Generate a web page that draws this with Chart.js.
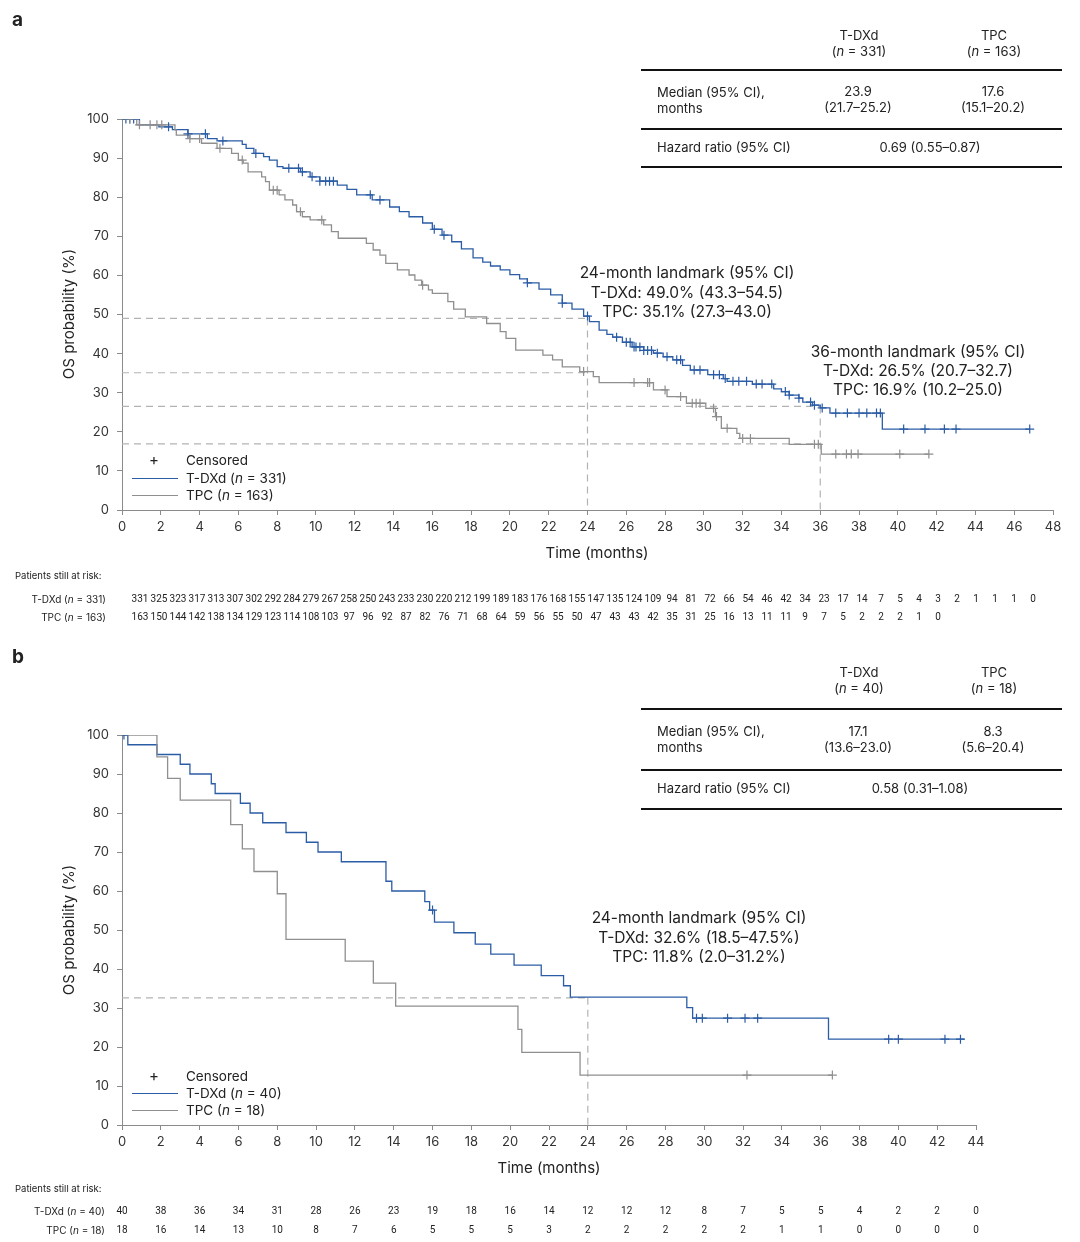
<!DOCTYPE html>
<html>
<head>
<meta charset="utf-8">
<script src="https://cdn.jsdelivr.net/npm/chart.js@4.4.1/dist/chart.umd.min.js"></script>
<style>
body { margin:0; background:#fff; font-family: Inter, 'Noto Sans', sans-serif; color:#222; }
#page { position:relative; width:1080px; height:1242px; overflow:hidden; }
canvas { position:absolute; left:0; }
.c { position:absolute; white-space:nowrap; transform:translate(-50%,-50%); }
.l { position:absolute; white-space:nowrap; transform:translate(0,-50%); }
.r { position:absolute; white-space:nowrap; transform:translate(-100%,-50%); }
.rule { position:absolute; left:641px; width:421px; height:0; border-top:2px solid #111; }
.tab { font-size:13px; }
.note { font-size:15.5px; }
.ax { font-size:15px; }
.leg { font-size:13.5px; }
.risk { font-size:10px; }
.sw { position:absolute; left:132px; width:46px; height:0; }
.panel { position:absolute; left:12px; font-weight:bold; font-size:19px; }
</style>
</head>
<body>
<div id="page">
  <canvas id="chartA" width="1080" height="640" style="top:0"></canvas>
  <canvas id="chartB" width="1080" height="602" style="top:640px"></canvas>

  <div class="panel" style="top:8px">a</div>
  <div class="panel" style="top:645px">b</div>

  <!-- panel a table -->
  <div class="c tab" style="left:859px;top:35px">T-DXd</div>
  <div class="c tab" style="left:859px;top:51px">(<i>n</i> = 331)</div>
  <div class="c tab" style="left:994px;top:35px">TPC</div>
  <div class="c tab" style="left:994px;top:51px">(<i>n</i> = 163)</div>
  <div class="rule" style="top:69px"></div>
  <div class="l tab" style="left:657px;top:92px">Median (95% CI),</div>
  <div class="l tab" style="left:657px;top:108px">months</div>
  <div class="c tab" style="left:858px;top:91px">23.9</div>
  <div class="c tab" style="left:858px;top:107px">(21.7–25.2)</div>
  <div class="c tab" style="left:993px;top:91px">17.6</div>
  <div class="c tab" style="left:993px;top:107px">(15.1–20.2)</div>
  <div class="rule" style="top:128px"></div>
  <div class="l tab" style="left:657px;top:147px">Hazard ratio (95% CI)</div>
  <div class="c tab" style="left:930px;top:147px">0.69 (0.55–0.87)</div>
  <div class="rule" style="top:166px"></div>

  <!-- panel b table -->
  <div class="c tab" style="left:859px;top:672px">T-DXd</div>
  <div class="c tab" style="left:859px;top:688px">(<i>n</i> = 40)</div>
  <div class="c tab" style="left:994px;top:672px">TPC</div>
  <div class="c tab" style="left:994px;top:688px">(<i>n</i> = 18)</div>
  <div class="rule" style="top:708px"></div>
  <div class="l tab" style="left:657px;top:731px">Median (95% CI),</div>
  <div class="l tab" style="left:657px;top:747px">months</div>
  <div class="c tab" style="left:858px;top:731px">17.1</div>
  <div class="c tab" style="left:858px;top:747px">(13.6–23.0)</div>
  <div class="c tab" style="left:993px;top:731px">8.3</div>
  <div class="c tab" style="left:993px;top:747px">(5.6–20.4)</div>
  <div class="rule" style="top:769px"></div>
  <div class="l tab" style="left:657px;top:788px">Hazard ratio (95% CI)</div>
  <div class="c tab" style="left:920px;top:788px">0.58 (0.31–1.08)</div>
  <div class="rule" style="top:808px"></div>

  <!-- landmark notes -->
  <div class="c note" style="left:687px;top:272px">24-month landmark (95% CI)</div>
  <div class="c note" style="left:687px;top:292px">T-DXd: 49.0% (43.3–54.5)</div>
  <div class="c note" style="left:687px;top:311px">TPC: 35.1% (27.3–43.0)</div>
  <div class="c note" style="left:918px;top:351px">36-month landmark (95% CI)</div>
  <div class="c note" style="left:918px;top:370px">T-DXd: 26.5% (20.7–32.7)</div>
  <div class="c note" style="left:918px;top:389px">TPC: 16.9% (10.2–25.0)</div>
  <div class="c note" style="left:699px;top:917px">24-month landmark (95% CI)</div>
  <div class="c note" style="left:699px;top:937px">T-DXd: 32.6% (18.5–47.5%)</div>
  <div class="c note" style="left:699px;top:956px">TPC: 11.8% (2.0–31.2%)</div>

  <!-- axis titles -->
  <div class="c ax" style="left:68px;top:314px;transform:translate(-50%,-50%) rotate(-90deg)">OS probability (%)</div>
  <div class="c ax" style="left:68px;top:930px;transform:translate(-50%,-50%) rotate(-90deg)">OS probability (%)</div>
  <div class="c ax" style="left:597px;top:552px">Time (months)</div>
  <div class="c ax" style="left:549px;top:1167px">Time (months)</div>

  <!-- legends -->
  <div class="c leg" style="left:154px;top:459px;font-size:15px">+</div>
  <div class="l leg" style="left:186px;top:460px">Censored</div>
  <div class="sw" style="top:478px;border-top:1.5px solid #2b5ca6"></div>
  <div class="l leg" style="left:186px;top:478px">T-DXd (<i>n</i> = 331)</div>
  <div class="sw" style="top:495px;border-top:1.5px solid #8f8f8f"></div>
  <div class="l leg" style="left:186px;top:495px">TPC (<i>n</i> = 163)</div>

  <div class="c leg" style="left:154px;top:1075px;font-size:15px">+</div>
  <div class="l leg" style="left:186px;top:1076px">Censored</div>
  <div class="sw" style="top:1093px;border-top:1.5px solid #2b5ca6"></div>
  <div class="l leg" style="left:186px;top:1093px">T-DXd (<i>n</i> = 40)</div>
  <div class="sw" style="top:1110px;border-top:1.5px solid #8f8f8f"></div>
  <div class="l leg" style="left:186px;top:1110px">TPC (<i>n</i> = 18)</div>

  <!-- risk table labels -->
  <div class="l risk" style="left:15px;top:575px;font-size:9.5px">Patients still at risk:</div>
  <div class="r risk" style="left:106px;top:599px">T-DXd (<i>n</i> = 331)</div>
  <div class="r risk" style="left:106px;top:617px">TPC (<i>n</i> = 163)</div>
  <div class="l risk" style="left:15px;top:1188px;font-size:9.5px">Patients still at risk:</div>
  <div class="r risk" style="left:105px;top:1211px">T-DXd (<i>n</i> = 40)</div>
  <div class="r risk" style="left:105px;top:1230px">TPC (<i>n</i> = 18)</div>
</div>

<script>
var BLUE = '#2b5ca6', GRAY = '#8f8f8f', DASH = '#b3b3b3';
Chart.defaults.font.family = 'Inter';

// ---- panel a : KM steps, months / % alive ----
var aTdxdT = [0, 0.9, 1.9, 2.6, 3.4, 4.4, 4.9, 6.2, 6.4, 6.8, 7.3, 7.6, 8.0, 8.3, 9.2, 9.7, 10.2, 11.1, 11.6, 12.1,
  12.9, 13.8, 14.3, 14.8, 15.5, 16.0, 16.5, 17.0, 17.5, 18.1, 18.6, 19.0, 19.5, 20.0, 20.5, 20.9, 21.5, 22.1, 22.7, 23.2,
  23.8, 24.1, 24.6, 25.0, 25.3, 25.8, 26.3, 26.9, 27.4, 27.9, 28.4, 28.9, 29.3, 30.2, 31.0, 31.2, 32.5, 33.6, 34.0, 34.4,
  34.9, 35.1, 35.6, 36.0, 36.5, 39.2, 46.8];
var aTdxdS = [100, 98.5, 98.0, 97.3, 96.2, 95.0, 94.4, 93.5, 92.5, 91.2, 90.4, 89.5, 87.8, 87.4, 86.5, 85.2, 84.1, 83.1, 82.0, 80.6,
  79.3, 77.5, 76.3, 75.0, 73.4, 71.8, 70.3, 68.6, 66.8, 64.5, 63.4, 62.4, 61.4, 60.2, 59.1, 58.1, 56.5, 55.0, 52.9, 51.4,
  49.6, 48.2, 46.0, 44.9, 44.2, 42.9, 41.7, 40.8, 40.1, 39.2, 38.4, 37.0, 35.8, 34.6, 33.6, 32.9, 32.2, 31.0, 30.3, 29.4,
  28.6, 27.6, 26.8, 26.1, 24.8, 20.7, 20.7];
var aTdxdCens = [0.2, 0.4, 0.6, 2.4, 3.4, 4.3, 5.2, 6.9, 8.6, 9.1, 9.3, 9.8, 10.2, 10.5, 10.7, 10.9, 12.8, 13.3, 16.1, 16.6,
  20.9, 22.7, 24.0, 25.5, 26.0, 26.2, 26.4, 26.5, 26.7, 26.9, 27.1, 27.3, 27.6, 28.1, 28.6, 28.8, 29.5, 29.8, 30.5, 30.8,
  31.1, 31.5, 31.8, 32.2, 32.7, 33.0, 33.5, 34.2, 34.4, 34.9, 35.5, 35.7, 36.1, 36.8, 37.4, 38.0, 38.4, 38.9, 39.1, 40.3,
  41.4, 42.4, 43.0, 46.8];

var aTpcT = [0, 0.76, 2.73, 2.8, 3.5, 4.1, 4.9, 5.65, 6.0, 6.25, 6.5, 7.2, 7.4, 7.6, 8.1, 8.4, 8.8, 9.0, 9.3, 9.7,
  10.4, 10.8, 11.15, 12.6, 12.95, 13.3, 13.6, 14.2, 14.8, 15.1, 15.45, 15.8, 16.0, 16.8, 17.1, 17.7, 18.8, 19.5, 19.8, 20.3,
  21.7, 22.2, 22.7, 23.6, 24.3, 24.6, 27.4, 28.1, 29.1, 30.1, 30.6, 30.9, 31.7, 31.85, 34.4, 36.05, 41.6];
var aTpcS = [100, 98.5, 97.2, 95.9, 95.0, 93.8, 92.5, 91.2, 89.5, 88.7, 86.5, 85.2, 84.0, 81.8, 80.6, 79.3, 78.0, 76.3, 75.0, 74.2,
  72.9, 71.2, 69.5, 68.2, 66.5, 65.2, 63.1, 61.4, 60.1, 58.8, 57.5, 56.3, 55.4, 53.3, 51.4, 49.4, 47.7, 45.6, 43.9, 40.9,
  39.6, 38.4, 36.6, 35.4, 34.1, 32.6, 30.7, 29.0, 27.3, 26.0, 23.9, 20.9, 19.6, 18.3, 16.8, 14.3, 14.3];
var aTpcCens = [0.4, 0.9, 1.45, 1.8, 2.05, 3.5, 4.0, 5.05, 6.2, 7.8, 8.0, 9.2, 10.3, 15.5, 23.8, 26.4, 27.1, 27.2, 28.0, 28.8,
  29.4, 29.6, 29.8, 30.5, 30.65, 31.2, 32.0, 32.4, 35.7, 35.9, 36.8, 37.35, 37.6, 37.95, 40.1, 41.6];

var aLandT = [24, 36];
var aLandTdxd = [49.0, 26.5];
var aLandTpc = [35.1, 16.9];

var aRiskTdxd = [331, 325, 323, 317, 313, 307, 302, 292, 284, 279, 267, 258, 250, 243, 233, 230, 220, 212, 199, 189, 183, 176,
  168, 155, 147, 135, 124, 109, 94, 81, 72, 66, 54, 46, 42, 34, 23, 17, 14, 7, 5, 4, 3, 2, 1, 1, 1, 0];
var aRiskTpc = [163, 150, 144, 142, 138, 134, 129, 123, 114, 108, 103, 97, 96, 92, 87, 82, 76, 71, 68, 64, 59, 56,
  55, 50, 47, 43, 43, 42, 35, 31, 25, 16, 13, 11, 11, 9, 7, 5, 2, 2, 2, 1, 0];

// ---- panel b ----
var bTdxdT = [0, 0.3, 1.8, 3.0, 3.5, 4.6, 4.8, 6.1, 6.6, 7.25, 8.45, 9.5, 10.1, 11.3, 13.6, 13.9, 15.6, 15.85, 16.1, 17.1,
  18.2, 19.0, 20.2, 21.6, 22.75, 23.1, 29.1, 29.4, 36.4, 43.4];
var bTdxdS = [100, 97.5, 95.0, 92.5, 90.0, 87.5, 85.0, 82.5, 80.0, 77.5, 75.0, 72.5, 70.0, 67.5, 62.5, 60.0, 57.3, 55.1, 52.0, 49.3,
  46.4, 43.8, 41.0, 38.3, 35.7, 32.8, 30.1, 27.4, 22.0, 22.0];
var bTdxdCens = [0.1, 16.0, 29.6, 29.9, 31.2, 32.1, 32.75, 39.5, 40.0, 42.4, 43.2];

var bTpcT = [0, 1.8, 2.35, 3.0, 5.6, 6.2, 6.8, 8.0, 8.45, 11.5, 12.95, 14.1, 20.4, 20.6, 23.6, 36.6];
var bTpcS = [100, 94.4, 88.9, 83.3, 77.0, 70.8, 65.0, 59.3, 47.6, 42.0, 36.4, 30.5, 24.5, 18.6, 12.8, 12.8];
var bTpcCens = [32.2, 36.6];

var bLandT = [24];
var bLandTdxd = [32.6];

var bRiskTdxd = [40, 38, 36, 34, 31, 28, 26, 23, 19, 18, 16, 14, 12, 12, 12, 8, 7, 5, 5, 4, 2, 2, 0];
var bRiskTpc = [18, 16, 14, 13, 10, 8, 7, 6, 5, 5, 5, 3, 2, 2, 2, 2, 2, 1, 1, 0, 0, 0, 0];

function pts(ts, ss) {
    return ts.map(function (t, i) { return { x: t, y: ss[i] }; });
}
// value of the step curve at time t
function survAt(ts, ss, t) {
    var s = ss[0];
    for (var i = 0; i < ts.length; i++) {
        if (ts[i] <= t) s = ss[i];
    }
    return s;
}
function censPts(ts, ss, cs) {
    return cs.map(function (c) { return { x: c, y: survAt(ts, ss, c) }; });
}
function curve(data, col) {
    return { data: data, borderColor: col, borderWidth: 1.3, stepped: true, pointRadius: 0, fill: false, order: 2 };
}
function marks(data, col) {
    return { data: data, showLine: false, pointStyle: 'cross', pointRadius: 4.5, pointBorderColor: col,
        pointBorderWidth: 1.2, borderColor: col, order: 1 };
}
function dashed(data) {
    return { data: data, borderColor: DASH, borderWidth: 1.2, borderDash: [7, 5], pointRadius: 0, fill: false, order: 3 };
}
function landLines(times, vals) {
    var out = [];
    times.forEach(function (t, i) {
        vals.forEach(function (v) {
            out.push(dashed([{ x: 0, y: v[i] }, { x: t, y: v[i] }]));
        });
        var top = Math.max.apply(null, vals.map(function (v) { return v[i]; }));
        out.push(dashed([{ x: t, y: top }, { x: t, y: 0 }]));
    });
    return out;
}

function riskPlugin(rows, posFn) {
    return {
        id: 'risk',
        afterDraw: function (chart) {
            var ctx = chart.ctx;
            ctx.save();
            ctx.font = '10px Roboto';
            ctx.fillStyle = '#222';
            ctx.textAlign = 'center';
            ctx.textBaseline = 'middle';
            rows.forEach(function (row) {
                row.vals.forEach(function (v, i) {
                    ctx.fillText(String(v), posFn(chart, i), row.y);
                });
            });
            ctx.restore();
        }
    };
}

function axes(xmax, yWidth) {
    var grid = { display: true, drawOnChartArea: false, drawTicks: true, tickLength: 5, color: '#8a8a8a' };
    var border = { display: true, color: '#8a8a8a', width: 1 };
    return {
        x: {
            type: 'linear', min: 0, max: xmax,
            grid: grid, border: border,
            ticks: { stepSize: 2, autoSkip: false, maxRotation: 0, padding: 4, color: '#333', font: { size: 13 } },
            afterFit: function (s) { s.height = 30; }
        },
        y: {
            type: 'linear', min: 0, max: 100,
            grid: grid, border: border,
            ticks: { stepSize: 10, padding: 8, color: '#333', font: { size: 13 } },
            afterFit: function (s) { s.width = yWidth; }
        }
    };
}

function makeChart(id, datasets, xmax, padding, plugin) {
    return new Chart(document.getElementById(id), {
        type: 'line',
        data: { datasets: datasets },
        options: {
            responsive: false,
            animation: false,
            layout: { padding: padding },
            plugins: { legend: { display: false }, tooltip: { enabled: false } },
            scales: axes(xmax, 122)
        },
        plugins: [plugin]
    });
}

var dsA = landLines(aLandT, [aLandTdxd, aLandTpc]).concat([
    curve(pts(aTpcT, aTpcS), GRAY),
    curve(pts(aTdxdT, aTdxdS), BLUE),
    marks(censPts(aTpcT, aTpcS, aTpcCens), GRAY),
    marks(censPts(aTdxdT, aTdxdS, aTdxdCens), BLUE)
]);
makeChart('chartA', dsA, 48, { left: 0, right: 27, top: 119, bottom: 100 },
    riskPlugin([{ vals: aRiskTdxd, y: 599 }, { vals: aRiskTpc, y: 617 }],
        function (chart, i) { return 140 + i * 19; }));

var dsB = landLines(bLandT, [bLandTdxd]).concat([
    curve(pts(bTpcT, bTpcS), GRAY),
    curve(pts(bTdxdT, bTdxdS), BLUE),
    marks(censPts(bTpcT, bTpcS, bTpcCens), GRAY),
    marks(censPts(bTdxdT, bTdxdS, bTdxdCens), BLUE)
]);
makeChart('chartB', dsB, 44, { left: 0, right: 104, top: 95, bottom: 87 },
    riskPlugin([{ vals: bRiskTdxd, y: 571 }, { vals: bRiskTpc, y: 590 }],
        function (chart, i) { return chart.scales.x.getPixelForValue(i * 2); }));
</script>
</body>
</html>
